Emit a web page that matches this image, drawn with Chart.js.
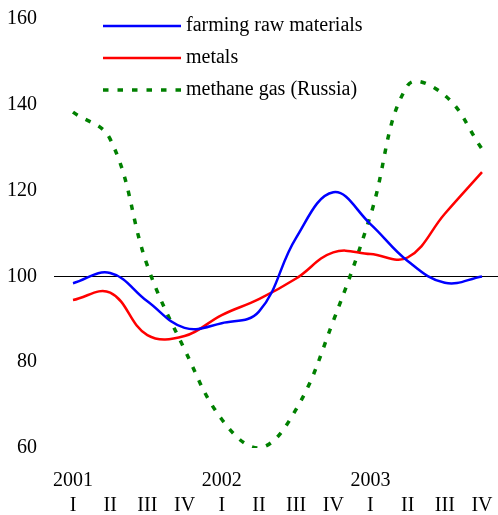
<!DOCTYPE html>
<html>
<head>
<meta charset="utf-8">
<script src="https://cdn.jsdelivr.net/npm/chart.js@4/dist/chart.umd.min.js"></script>
<style>
  body { margin: 0; background: #fff; }
</style>
</head>
<body>
<canvas id="myChart" width="498" height="515"></canvas>
<script>
var years = ["2001", "", "", "", "2002", "", "", "", "2003", "", "", ""];
var quarters = ["I", "II", "III", "IV", "I", "II", "III", "IV", "I", "II", "III", "IV"];
var seriesNames = ["farming raw materials", "metals", "methane gas (Russia)"];
var farming = [98.4, 100.8, 94.2, 88.0, 89.1, 91.8, 109.0, 119.6, 112.2, 103.6, 98.5, 100.0];
var metals = [94.5, 96.2, 86.3, 86.1, 91.0, 94.7, 99.5, 105.6, 105.2, 104.4, 114.6, 124.3];
var methane = [138.3, 132.0, 102.5, 83.0, 66.7, 60.0, 69.0, 89.6, 114.2, 144.5, 142.2, 129.7];
var yTicks = [60, 80, 100, 120, 140, 160];

var labels = years.map(function (y, i) { return [y, quarters[i]]; });
var font = { family: "'Liberation Serif', 'Times New Roman', serif", size: 20 };

// horizontal line at 100 and the legend inside the plot
var extras = {
    id: "extras",
    beforeDatasetsDraw: function (chart) {
        var ctx = chart.ctx;
        var y = Math.round(chart.scales.y.getPixelForValue(100)) + 0.5;
        ctx.save();
        ctx.strokeStyle = "#000";
        ctx.lineWidth = 1;
        ctx.beginPath();
        ctx.moveTo(54, y);
        ctx.lineTo(chart.width, y);
        ctx.stroke();
        ctx.restore();
    },
    afterDatasetsDraw: function (chart) {
        var ctx = chart.ctx;
        ctx.save();
        ctx.font = font.size + "px " + font.family;
        ctx.textBaseline = "middle";
        chart.data.datasets.forEach(function (ds, i) {
            var y = 26 + i * 32;
            ctx.strokeStyle = ds.borderColor;
            ctx.lineWidth = ds.borderWidth;
            ctx.setLineDash(ds.borderDash || []);
            ctx.beginPath();
            ctx.moveTo(103, y);
            ctx.lineTo(181, y);
            ctx.stroke();
            ctx.setLineDash([]);
            ctx.fillStyle = "#000";
            ctx.fillText(ds.label, 186, y);
        });
        ctx.restore();
    }
};

new Chart("myChart", {
    type: "line",
    data: {
        labels: labels,
        datasets: [{
            label: seriesNames[0],
            data: farming,
            borderColor: "#0000ff",
            borderWidth: 2.5,
            tension: 0.4
        }, {
            label: seriesNames[1],
            data: metals,
            borderColor: "#ff0000",
            borderWidth: 2.5,
            tension: 0.4
        }, {
            label: seriesNames[2],
            data: methane,
            borderColor: "#008000",
            borderWidth: 3.5,
            borderDash: [5.5, 9],
            borderCapStyle: "butt",
            tension: 0.4
        }]
    },
    plugins: [extras],
    options: {
        responsive: false,
        animation: false,
        layout: { padding: { top: 19, right: 16, left: 0, bottom: 0 } },
        elements: { point: { radius: 0 } },
        plugins: {
            legend: { display: false },
            tooltip: { enabled: false }
        },
        scales: {
            x: {
                offset: false,
                grid: { display: false, drawTicks: true, tickLength: 20 },
                border: { display: false },
                ticks: {
                    color: "#000",
                    font: { family: font.family, size: 20, lineHeight: "25px" },
                    padding: 0,
                    maxRotation: 0,
                    autoSkip: false
                },
                afterFit: function (scale) { scale.height = 67; }
            },
            y: {
                min: 60,
                max: 160,
                grid: { display: false, drawTicks: true, tickLength: 36 },
                border: { display: false },
                afterBuildTicks: function (scale) {
                    scale.ticks = yTicks.map(function (v) { return { value: v }; });
                },
                ticks: {
                    color: "#000",
                    font: font,
                    padding: 0
                },
                afterFit: function (scale) { scale.width = 73; }
            }
        }
    }
});
</script>
</body>
</html>
